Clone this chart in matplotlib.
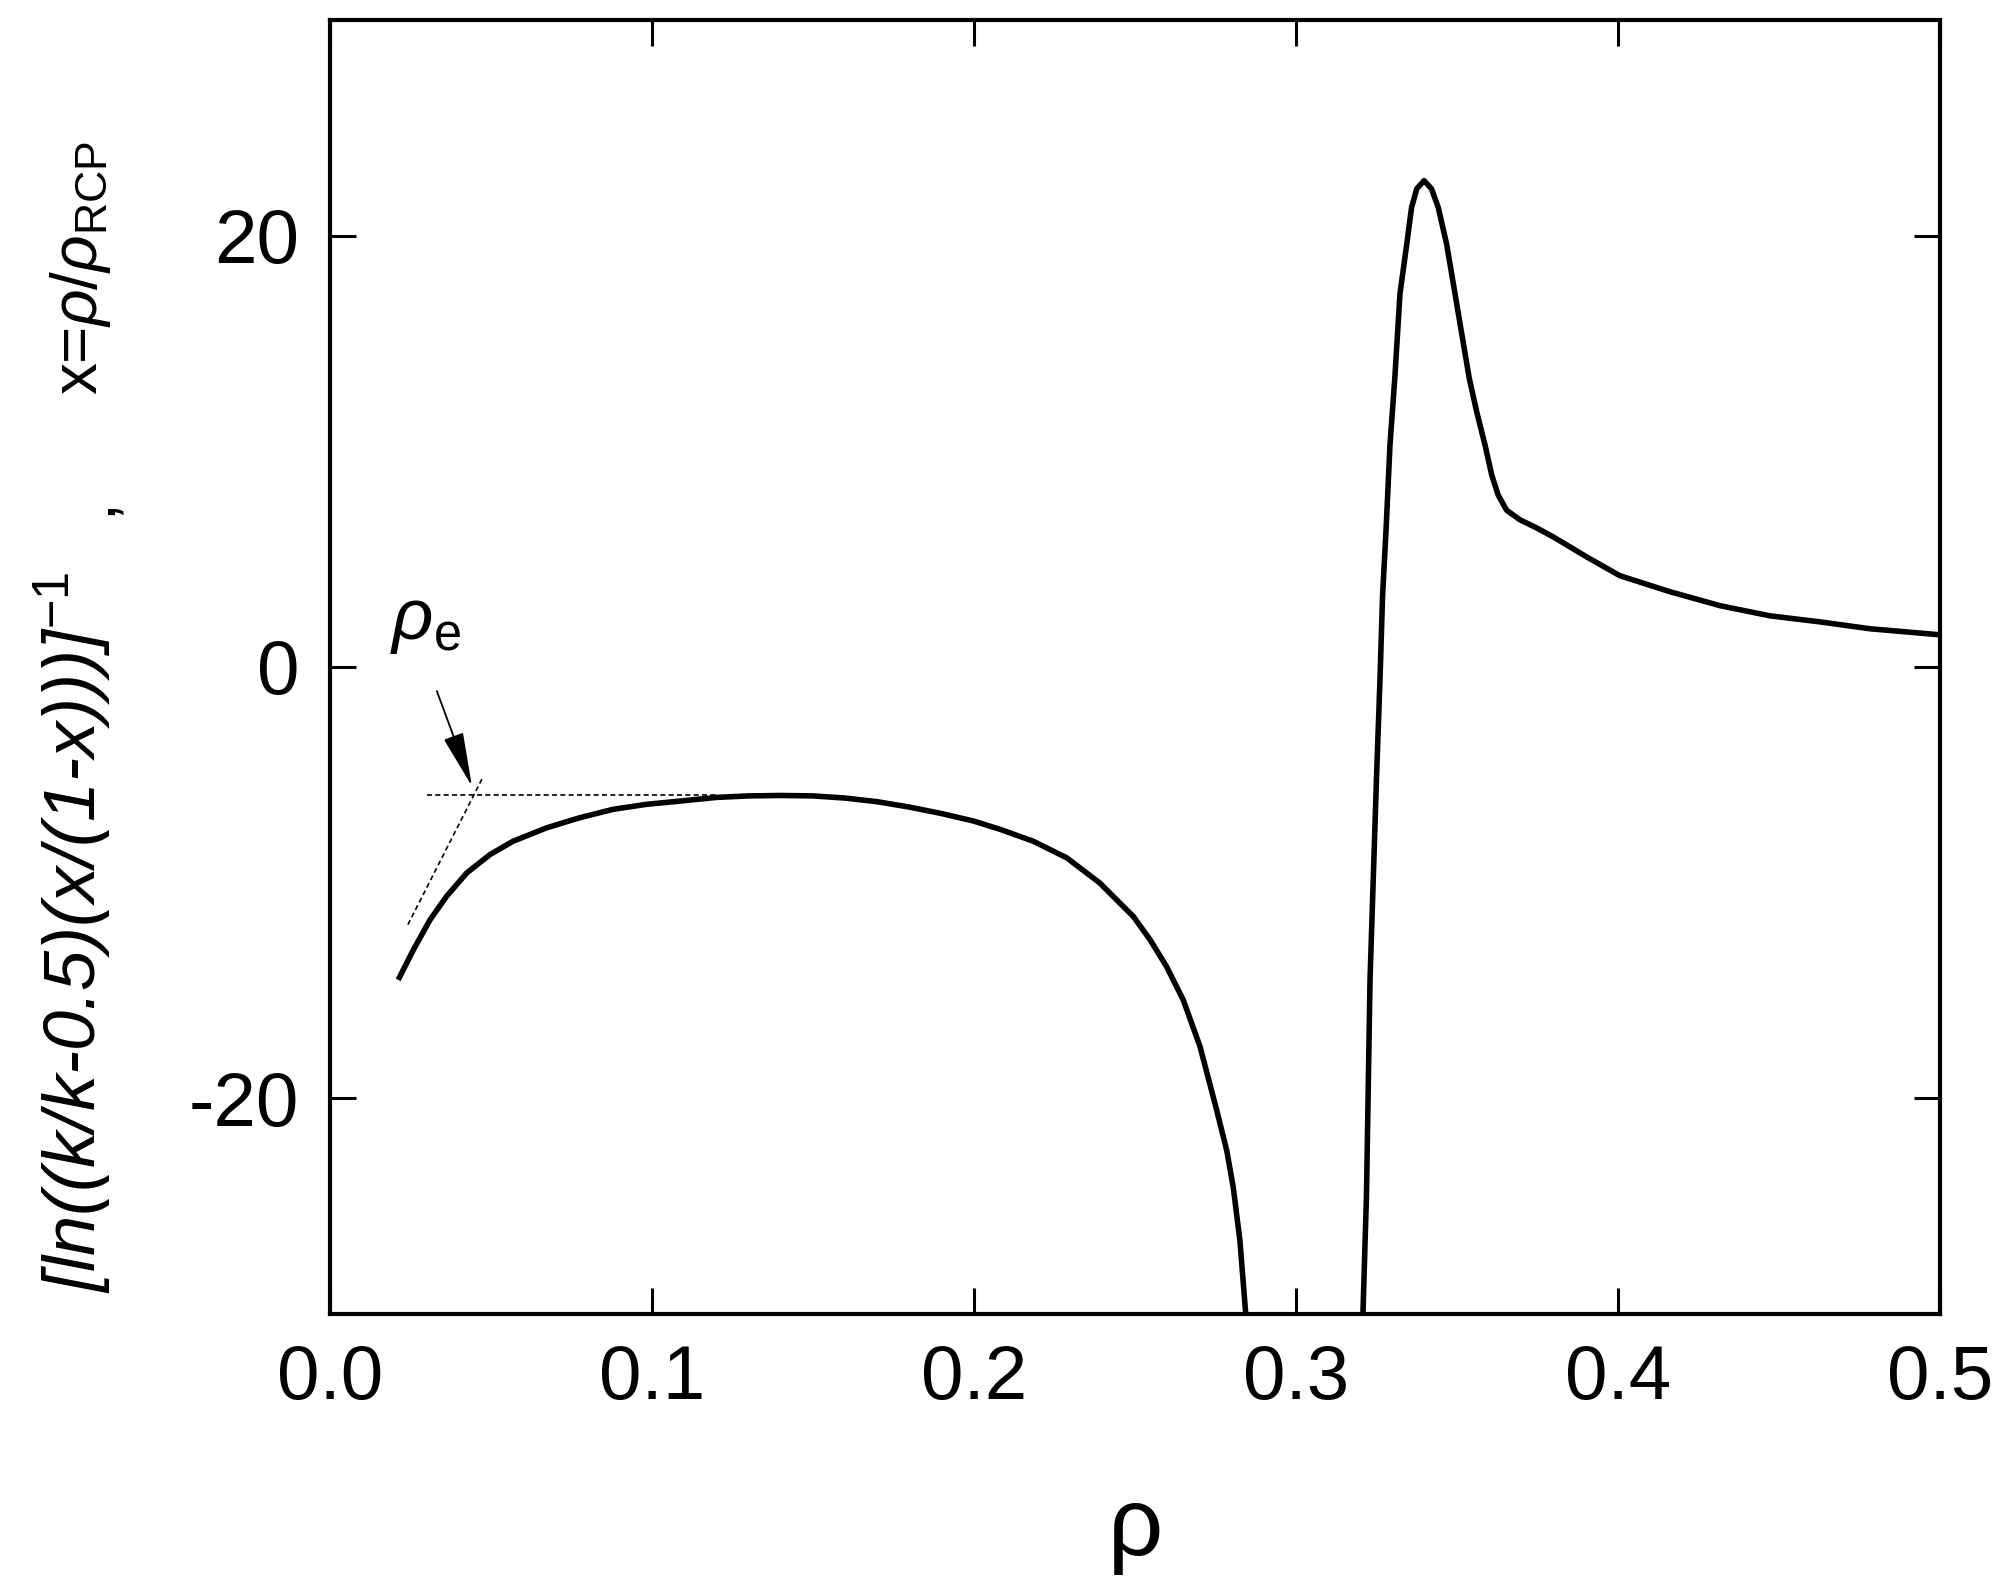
import numpy as np
import matplotlib.pyplot as plt

# Curve, two branches around the divergence
rho_left = [0.0212, 0.0259, 0.0311, 0.0362, 0.0425, 0.0497, 0.0569, 0.0673, 0.0776,
            0.0880, 0.0983, 0.1087, 0.12, 0.13, 0.14, 0.15, 0.16, 0.17, 0.18, 0.19,
            0.20, 0.2081, 0.2184, 0.2288, 0.2391, 0.2495, 0.2547, 0.2598, 0.2650,
            0.2702, 0.2754, 0.2785, 0.2805, 0.2826, 0.2844, 0.2846]
val_left = [-14.51, -13.12, -11.72, -10.64, -9.55, -8.70, -8.08, -7.46, -6.99,
            -6.60, -6.37, -6.22, -6.05, -5.98, -5.96, -5.98, -6.08, -6.25, -6.5, -6.8,
            -7.15, -7.53, -8.08, -8.85, -10.02, -11.57, -12.65, -13.89, -15.44,
            -17.6, -20.56, -22.42, -24.1, -26.6, -30.0, -30.5]

rho_right = [0.3206, 0.3208, 0.3219, 0.3230, 0.3240, 0.3250, 0.3261, 0.3269, 0.3280,
             0.3292, 0.3307, 0.3323, 0.3344, 0.3359, 0.3375, 0.3398, 0.3421, 0.3442,
             0.3468, 0.3494, 0.3538, 0.3561, 0.3587, 0.3608, 0.3628, 0.3654, 0.3696,
             0.3747, 0.3799, 0.3903, 0.4006, 0.4161, 0.4317, 0.4472, 0.4627, 0.4783, 0.5]
val_right = [-30.5, -30.0, -24.5, -14.5, -9.86, -5.2, -0.56, 3.32, 6.42,
             10.3, 13.4, 17.3, 19.6, 21.3, 22.17, 22.55, 22.17, 21.3,
             19.6, 17.3, 13.4, 11.85, 10.3, 8.9, 7.97, 7.27, 6.82,
             6.45, 6.03, 5.10, 4.23, 3.49, 2.84, 2.37, 2.09, 1.77, 1.49]

# dashed construction lines for rho_e
plateau_rho = [0.030, 0.120]
plateau_val = [-5.95, -5.95]
tangent_rho = [0.0242, 0.0472]
tangent_val = [-11.95, -5.2]
arrow_from = (0.0332, -1.12)
arrow_to = (0.0441, -5.53)

x_ticks = [0.0, 0.1, 0.2, 0.3, 0.4, 0.5]
y_ticks = [-20, 0, 20]

plt.rcParams['font.family'] = ['Liberation Sans', 'DejaVu Sans']
plt.rcParams['mathtext.fontset'] = 'custom'
plt.rcParams['mathtext.rm'] = 'Liberation Sans'
plt.rcParams['mathtext.it'] = 'Liberation Sans:italic'
plt.rcParams['axes.unicode_minus'] = False

fig = plt.figure(figsize=(20.07, 15.84), dpi=100)
ax = fig.add_axes([0.1644, 0.1705, 0.8022, 0.8169])

ax.plot(rho_left, val_left, color='black', lw=4, solid_capstyle='butt')
ax.plot(rho_right, val_right, color='black', lw=4, solid_capstyle='butt')
ax.plot(plateau_rho, plateau_val, color='black', lw=1.2, ls=(0, (3, 2)))
ax.plot(tangent_rho, tangent_val, color='black', lw=1.2, ls=(0, (3, 2)))

ax.annotate('', xy=arrow_to, xytext=arrow_from,
            arrowprops=dict(arrowstyle='-|>,head_length=0.9,head_width=0.17',
                            color='black', lw=1.3, mutation_scale=38,
                            shrinkA=0, shrinkB=0))
ax.text(0.0186, 1.3, r'$\rho_{\mathrm{e}}$', fontsize=52, ha='left', va='baseline')

ax.set_xlim(0, 0.5)
ax.set_ylim(-30, 30)
ax.set_xticks(x_ticks)
ax.set_xticklabels(['%.1f' % v for v in x_ticks])
ax.set_yticks(y_ticks)
ax.tick_params(direction='in', length=19, width=2.2, labelsize=55,
               top=True, right=True, pad=22)
for s in ax.spines.values():
    s.set_linewidth(3)

# axis titles
fig.text(0.5655, 1 - 1530 / 1584, 'ρ', fontsize=70, ha='center', va='center')
fig.text(0.0364, 1 - 1293 / 1584, '[ln((k/k-0.5)(x/(1-x)))]$^{-1}$',
         fontsize=52, style='italic', rotation=90, ha='center', va='bottom')
fig.text(0.0463, 1 - 506 / 1584, ',', fontsize=46, rotation=90, ha='center', va='center')
fig.text(0.040, 1 - 141 / 1584, r'x=$\rho$/$\rho_{\mathrm{RCP}}$',
         fontsize=46, rotation=90, ha='center', va='top')

fig.savefig('out.png', dpi=100, facecolor='white')
